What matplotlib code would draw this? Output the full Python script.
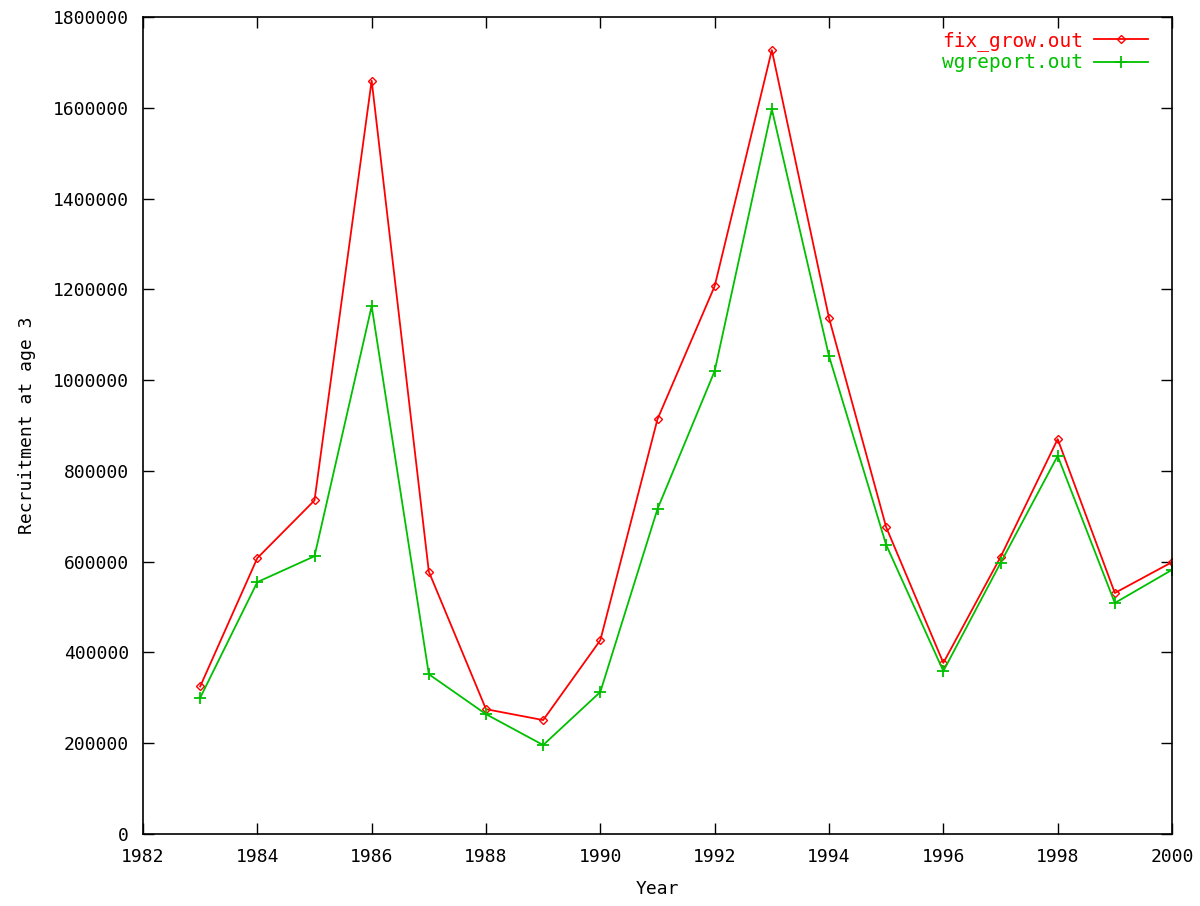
import numpy as np
import matplotlib
matplotlib.use("Agg")
import matplotlib.pyplot as plt

years = list(range(1983, 2001))

fix_grow = [325000, 608000, 735000, 1660000, 578000, 275000, 251000, 427000,
            914000, 1207000, 1727000, 1137000, 676000, 377000, 610000, 870000,
            531000, 599000]

wgreport = [300000, 555000, 612000, 1163000, 352000, 264000, 196000, 313000,
            716000, 1020000, 1597000, 1053000, 637000, 359000, 597000, 833000,
            509000, 582000]

x_ticks = list(range(1982, 2001, 2))
y_ticks = list(range(0, 1800001, 200000))

plt.rcParams["font.family"] = ["DejaVu Sans Mono"]

fig = plt.figure(figsize=(12, 9.06), dpi=100)
ax = fig.add_axes([143 / 1200, 1 - 834 / 906, (1172 - 143) / 1200, (834 - 17) / 906])

ax.plot(years, fix_grow, color="#ff0000", lw=1.3, marker="D", markersize=4,
        markerfacecolor="none", markeredgewidth=1.0, label="fix_grow.out")
ax.plot(years, wgreport, color="#00c000", lw=1.3, marker="+", markersize=9,
        markeredgewidth=1.3, label="wgreport.out")

ax.set_xlim(1982, 2000)
ax.set_ylim(0, 1800000)
ax.set_xticks(x_ticks)
ax.set_yticks(y_ticks)
ax.set_xticklabels([str(v) for v in x_ticks])
ax.set_yticklabels([str(v) for v in y_ticks])
ax.tick_params(direction="in", length=8, width=1, top=True, right=True,
               labelsize=13, pad=10)
for s in ax.spines.values():
    s.set_linewidth(1.2)

ax.set_xlabel("Year", fontsize=13, labelpad=10)
ax.set_ylabel("Recruitment at age 3", fontsize=13, labelpad=12)

leg = ax.legend(loc="upper right", bbox_to_anchor=(0.99, 1.0), frameon=False,
                markerfirst=False, fontsize=14, handlelength=2.8,
                handletextpad=0.55, borderaxespad=0.3, labelspacing=0.15)
for txt, c in zip(leg.get_texts(), ["#ff0000", "#00c000"]):
    txt.set_color(c)

fig.savefig("out.png", dpi=100)
